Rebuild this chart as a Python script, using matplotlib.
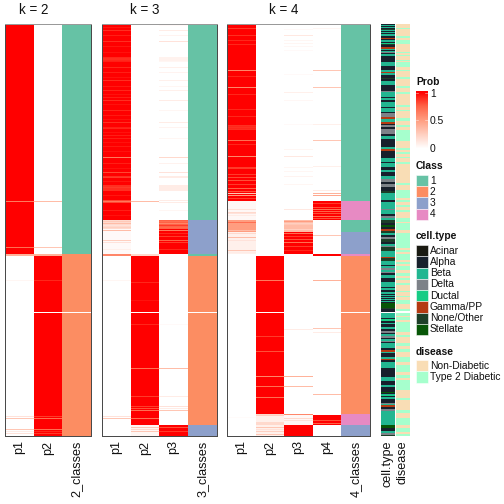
import matplotlib
matplotlib.use("Agg")
import matplotlib.pyplot as plt
import numpy as np
from matplotlib.colors import LinearSegmentedColormap, ListedColormap
from matplotlib.patches import Rectangle

plt.rcParams["font.family"] = ["Liberation Sans", "DejaVu Sans"]

N_ROWS = 412
GAP_ROW = 288
TOP, BOTTOM = 24, 436

CLASS_COLORS = ["#66C2A5", "#FC8D62", "#8DA0CB", "#E78AC3"]
CLASS_LABELS = ["1", "2", "3", "4"]
CELL_LABELS = ["Acinar", "Alpha", "Beta", "Delta", "Ductal", "Gamma/PP", "None/Other", "Stellate"]
CELL_COLORS = ["#1A1A12", "#18202C", "#22B691", "#7D8288", "#16CC85", "#B43A12", "#1D3F28", "#075607"]
DISEASE_LABELS = ["Non-Diabetic", "Type 2 Diabetic"]
DISEASE_COLORS = ["#F9DDB5", "#A6FFCD"]

# (end row, value) runs, then (row, value) single lines on top
k2_p1_runs = [(230, 1.0), (232, 0.4), (412, 0.0)]
k2_p1_lines = [(177, 0.65), (223, 0.7), (256, 0.05), (392, 0.15), (394, 0.3),
               (405, 0.3), (407, 0.1), (409, 0.15)]
k2_p2_runs = [(230, 0.0), (232, 0.4), (412, 1.0)]
k2_p2_lines = [(177, 0.35), (223, 0.3), (256, 0.9), (392, 0.85), (394, 0.7),
               (405, 0.7), (407, 0.9), (409, 0.85)]
k2_class_runs = [(230, 0), (412, 1)]

k3_p1_runs = [(196, 1.0), (205, 0.2), (230, 0.03), (232, 0.6), (412, 0.0)]
k3_p1_lines = [(3, 0.94), (6, 0.88), (11, 0.92), (17, 0.88), (22, 0.94), (28, 0.95), (33, 0.9), (34, 0.88),
               (35, 0.88), (36, 0.9), (37, 0.92), (43, 0.9), (48, 0.92), (53, 0.95), (56, 0.88), (62, 0.93),
               (66, 0.9), (70, 0.95), (73, 0.92), (76, 0.88), (80, 0.95), (86, 0.9), (91, 0.93), (95, 0.95),
               (98, 0.88), (103, 0.92), (104, 0.9), (108, 0.95), (111, 0.92), (114, 0.92), (118, 0.95),
               (122, 0.93), (127, 0.95), (133, 0.65), (139, 0.92), (144, 0.95), (148, 0.82), (152, 0.88),
               (153, 0.85), (157, 0.94), (161, 0.88), (162, 0.88), (163, 0.85), (164, 0.88), (165, 0.88),
               (166, 0.88), (171, 0.94), (176, 0.82), (177, 0.65), (178, 0.82), (186, 0.92), (191, 0.95),
               (197, 0.28), (199, 0.35), (201, 0.15), (203, 0.25), (206, 0.35),
               (216, 0.25), (218, 0.15), (225, 0.08), (256, 0.05), (392, 0.15), (394, 0.3)]
k3_p2_runs = [(230, 0.0), (232, 0.2), (401, 1.0), (412, 0.05)]
k3_p2_lines = [(177, 0.35), (276, 0.95), (258, 0.9), (300, 0.9), (344, 0.7), (372, 0.85),
               (382, 0.85), (384, 0.8), (386, 0.7), (394, 0.7), (403, 0.3), (405, 0.2), (407, 0.3)]
k3_p3_runs = [(196, 0.0), (205, 0.75), (230, 1.0), (401, 0.0), (412, 1.0)]
k3_p3_lines = [(1, 0.03), (6, 0.1), (11, 0.06), (17, 0.15), (33, 0.07), (34, 0.07), (35, 0.07),
               (36, 0.07), (37, 0.05), (43, 0.08), (48, 0.06), (56, 0.08), (62, 0.05), (66, 0.08),
               (76, 0.1), (86, 0.05), (98, 0.1), (103, 0.06), (114, 0.05), (133, 0.2), (139, 0.07),
               (148, 0.15), (152, 0.1), (153, 0.1), (161, 0.1), (162, 0.1), (163, 0.1), (164, 0.1),
               (165, 0.1), (166, 0.1), (176, 0.1), (178, 0.1), (186, 0.05), (197, 0.7), (199, 0.6),
               (201, 0.85), (203, 0.72), (206, 0.65), (209, 0.9),
               (212, 0.85), (216, 0.75), (218, 0.85), (225, 0.9), (300, 0.03), (344, 0.35), (372, 0.1),
               (382, 0.15), (384, 0.1), (386, 0.3), (403, 0.8), (407, 0.85)]
k3_class_runs = [(196, 0), (230, 2), (232, 0), (401, 1), (412, 2)]

k4_p1_runs = [(177, 1.0), (196, 0.04), (208, 0.5), (230, 0.08), (412, 0.0)]
k4_p1_lines = [(4, 0.85), (11, 0.88), (16, 0.9), (20, 0.9), (46, 0.6), (52, 0.9), (63, 0.6), (70, 0.9),
               (85, 0.9), (92, 0.9), (101, 0.88), (102, 0.9), (103, 0.88), (104, 0.9), (105, 0.88),
               (116, 0.7), (120, 0.9), (132, 0.6), (143, 0.85), (144, 0.85), (150, 0.85), (153, 0.82),
               (156, 0.8), (160, 0.85), (164, 0.75), (167, 0.8), (169, 0.3), (171, 0.5), (174, 0.85),
               (185, 0.15), (188, 0.2), (189, 0.15), (191, 0.1), (198, 0.7), (206, 0.35), (209, 0.2),
               (213, 0.35), (216, 0.15), (226, 0.3), (228, 0.1), (393, 0.02)]
k4_p2_runs = [(232, 0.0), (390, 1.0), (412, 0.08)]
k4_p2_lines = [(256, 0.65), (327, 0.8), (312, 0.85), (352, 0.6), (362, 0.7),
               (373, 0.7), (390, 0.2), (391, 0.25), (398, 0.2), (399, 0.2), (400, 0.2),
               (403, 0.3), (405, 0.15), (407, 0.25), (410, 0.3)]
k4_p3_runs = [(196, 0.0), (208, 0.35), (230, 1.0), (390, 0.0), (401, 0.04), (412, 1.0)]
k4_p3_lines = [(5, 0.03), (11, 0.12), (16, 0.05), (19, 0.05), (22, 0.04), (26, 0.03), (50, 0.03),
               (68, 0.08), (76, 0.04), (100, 0.03), (125, 0.05), (132, 0.12), (143, 0.05), (147, 0.05),
               (152, 0.06), (160, 0.05), (185, 0.12), (197, 0.5), (199, 0.25), (200, 0.3), (205, 0.25),
               (209, 0.7), (212, 0.85), (215, 0.8), (218, 0.7), (222, 0.85), (226, 0.9), (305, 0.1),
               (352, 0.4), (362, 0.35), (390, 0.6), (394, 0.2), (396, 0.15)]
k4_p4_runs = [(177, 0.0), (196, 1.0), (230, 0.0), (232, 1.0), (391, 0.0), (401, 1.0), (412, 0.0)]
k4_p4_lines = [(4, 0.05), (46, 0.3), (63, 0.3), (100, 0.08), (116, 0.3), (142, 0.08), (166, 0.1),
               (169, 0.4), (171, 0.45), (179, 0.85), (183, 0.8), (185, 0.7), (187, 0.75), (189, 0.8),
               (192, 0.7), (194, 0.8), (211, 0.3), (256, 0.4), (304, 0.3), (308, 0.1), (370, 0.35),
               (396, 0.8), (399, 0.75)]
k4_class_runs = [(177, 0), (196, 3), (208, 0), (230, 2), (232, 3), (390, 1), (401, 3), (412, 2)]

# letter + end pixel row of each run
cell_runs = ("A25 B26 A27 B28 A29 N30 B31 A32 B33 A34 B36 A38 G39 A40 B42 A43 U44 N45 A47 G49 B50 A51 "
             "B52 D53 A54 B56 A62 B66 A70 B72 G73 B75 A78 N79 A81 B85 A91 D92 B97 A98 B100 A102 B107 "
             "A108 B112 A113 D117 G119 B122 G124 A125 D127 A129 D134 A136 B139 A142 A147 B149 G151 "
             "A153 A158 B162 A163 B167 A170 B172 A176 B179 D182 A184 D187 A191 N193 B200 A202 B209 "
             "D210 B214 A216 D218 B220 N223 A225 S227 A229 G231 N233 B235 A237 D239 N242 A244 B246 "
             "D247 N251 B257 G258 N261 B265 A266 B268 D270 B272 D273 A275 B278 A282 B287 A288 B290 "
             "A292 B294 A295 B296 A297 B298 A299 B300 A301 B302 A303 S308 N309 A312 W313 B318 A319 "
             "U321 A323 B324 A327 B329 A331 D333 A334 B336 D338 A339 B341 D342 A343 B348 A350 G352 "
             "B353 A357 B359 G360 A362 B368 A377 B381 A385 B387 A388 A392 S393 A394 B395 U396 A397 "
             "B399 A403 D404 B405 G407 A409 D411 B415 B425 S428 A431 B433 D435 N436")
disease_runs = ("N28 T29 N36 T38 N40 T44 N52 T53 N55 T56 N60 T61 N62 T67 N70 T71 N77 T79 N86 T88 N92 T94 "
                "N97 N105 T107 N110 T111 N113 N118 T121 N125 T127 N130 T133 T141 N148 T150 N152 T154 N157 "
                "T158 N162 T164 N167 N175 N183 T185 N190 T193 T198 N200 T202 N205 T207 N210 T212 N218 "
                "T222 N223 T230 N233 T239 T248 N250 T252 N254 T260 N262 T264 N266 T270 N273 T276 N278 "
                "T280 N283 T285 N287 N291 T292 N296 T297 N300 T302 T304 N306 N309 T311 W313 T316 N317 "
                "T320 N322 T325 T332 N335 T337 N343 T346 N349 T352 N357 T362 N365 T367 T372 N375 T378 "
                "N380 T383 T390 N398 T400 N403 N410 T413 N418 T425 N428 T432 N434 T436")


def column(runs, lines=()):
    vals = np.zeros(N_ROWS)
    start = 0
    for end, v in runs:
        vals[start:end] = v
        start = end
    for row, v in lines:
        vals[row] = v
    vals[GAP_ROW] = np.nan
    return vals


def track(runs, letters):
    vals = np.full(N_ROWS, np.nan)
    start = 0
    for tok in runs.split():
        end = int(tok[1:]) - TOP
        if tok[0] in letters:
            vals[start:end] = letters.index(tok[0])
        start = end
    return vals


def px_axes(fig, x0, y0, x1, y1):
    return fig.add_axes([x0 / 504, 1 - y1 / 504, (x1 - x0) / 504, (y1 - y0) / 504])


def px_text(fig, x, y, s, **kw):
    kw.setdefault("fontsize", 10.3)
    kw.setdefault("color", "#111111")
    fig.text(x / 504, 1 - y / 504, s, **kw)


prob_cmap = LinearSegmentedColormap.from_list(
    "prob", [(0, "#FFFFFF"), (0.25, "#FFD0C1"), (0.5, "#FF9E81"), (0.75, "#FF6447"), (1, "#FF0000")])
prob_cmap.set_bad("white")
class_cmap = ListedColormap(CLASS_COLORS)
class_cmap.set_bad("white")
cell_cmap = ListedColormap(CELL_COLORS)
cell_cmap.set_bad("white")
disease_cmap = ListedColormap(DISEASE_COLORS)
disease_cmap.set_bad("white")


def draw_panel(fig, edges, probs, classes, title, title_x, names):
    ax = px_axes(fig, edges[0], TOP, edges[-1], BOTTOM)
    n = len(probs)
    for i, vals in enumerate(probs):
        ax.imshow(vals[:, None], extent=(i, i + 1, N_ROWS, 0), aspect="auto", cmap=prob_cmap,
                  vmin=0, vmax=1, interpolation="nearest")
    ax.imshow(classes[:, None], extent=(n, n + 1, N_ROWS, 0), aspect="auto", cmap=class_cmap,
              vmin=-0.5, vmax=3.5, interpolation="nearest")
    ax.set_xlim(0, n + 1)
    ax.set_ylim(N_ROWS, 0)
    ax.set_xticks([])
    ax.set_yticks([])
    for name, sp in ax.spines.items():
        sp.set_linewidth(1.0)
        sp.set_color("#999999" if name == "top" else "#4A4A4A")
    px_text(fig, title_x, 10.5, title, fontsize=13.5, ha="center", va="center")
    for i, name in enumerate(names):
        px_text(fig, (edges[0] + (edges[-1] - edges[0]) * (i + 0.5) / (n + 1)), 440.5, name,
                rotation=90, ha="center", va="top", fontsize=12.6)


def legend_block(fig, title, title_y, labels, colors, top, step):
    px_text(fig, 416, title_y, title, fontweight="bold", va="center", ha="left")
    for i, (lab, col) in enumerate(zip(labels, colors)):
        y = top + i * step
        fig.patches.append(Rectangle((416 / 504, 1 - (y + step) / 504), 11.5 / 504, step / 504,
                                     transform=fig.transFigure, facecolor=col,
                                     edgecolor="white", linewidth=0.5))
        px_text(fig, 430, y + step / 2, lab, va="center", ha="left")


fig = plt.figure(figsize=(7, 7), dpi=72, facecolor="white")

draw_panel(fig, [5.3, 90.7], [column(k2_p1_runs, k2_p1_lines), column(k2_p2_runs, k2_p2_lines)],
           column(k2_class_runs), "k = 2", 34, ["p1", "p2", "2_classes"])
draw_panel(fig, [102, 216.5],
           [column(k3_p1_runs, k3_p1_lines), column(k3_p2_runs, k3_p2_lines), column(k3_p3_runs, k3_p3_lines)],
           column(k3_class_runs), "k = 3", 145, ["p1", "p2", "p3", "3_classes"])
draw_panel(fig, [227.3, 369.7],
           [column(k4_p1_runs, k4_p1_lines), column(k4_p2_runs, k4_p2_lines),
            column(k4_p3_runs, k4_p3_lines), column(k4_p4_runs, k4_p4_lines)],
           column(k4_class_runs), "k = 4", 284, ["p1", "p2", "p3", "p4", "4_classes"])

ax_cell = px_axes(fig, 381, TOP, 395, BOTTOM)
ax_cell.imshow(track(cell_runs, "aABDUGNS")[:, None], aspect="auto", cmap=cell_cmap, vmin=-0.5, vmax=7.5,
               interpolation="nearest")
ax_cell.axis("off")
ax_dis = px_axes(fig, 396, TOP, 410, BOTTOM)
ax_dis.imshow(track(disease_runs, "NT")[:, None], aspect="auto", cmap=disease_cmap, vmin=-0.5, vmax=1.5,
              interpolation="nearest")
ax_dis.axis("off")
px_text(fig, 388, 440.5, "cell.type", rotation=90, ha="center", va="top", fontsize=12.6)
px_text(fig, 403, 440.5, "disease", rotation=90, ha="center", va="top", fontsize=12.6)

# Prob colour bar
px_text(fig, 416, 82, "Prob", fontweight="bold", va="center", ha="left")
ax_bar = px_axes(fig, 415.5, 91, 427.5, 149)
ax_bar.imshow(np.linspace(1.03, 0, 58)[:, None], aspect="auto", cmap=prob_cmap, vmin=0, vmax=1,
              extent=(0, 1, 0, 1.0))
ax_bar.set_xlim(0, 1)
ax_bar.set_ylim(0, 1)
ax_bar.axis("off")
for tick in [0.5, 0.97]:
    ax_bar.plot([0, 0.2], [tick, tick], color="white", lw=0.6, alpha=0.7)
    ax_bar.plot([0.8, 1], [tick, tick], color="white", lw=0.6, alpha=0.7)
for lab, y in [("1", 94), ("0.5", 121), ("0", 149)]:
    px_text(fig, 430, y, lab, va="center", ha="left")

legend_block(fig, "Class", 166, CLASS_LABELS, CLASS_COLORS, 175, 11.25)
legend_block(fig, "cell.type", 236, CELL_LABELS, CELL_COLORS, 245, 11.25)
legend_block(fig, "disease", 352, DISEASE_LABELS, DISEASE_COLORS, 360, 11.25)

fig.savefig("out.png", dpi=72)
plt.close(fig)
